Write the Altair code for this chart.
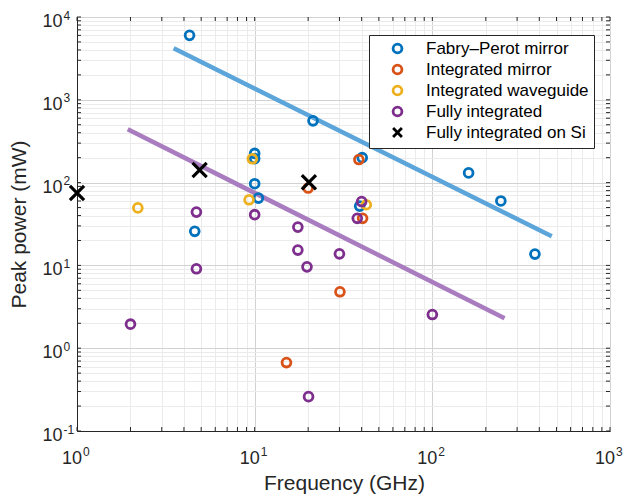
import altair as alt
import pandas as pd

# ---------------- data ----------------
series_names = ["Fabry–Perot mirror", "Integrated mirror", "Integrated waveguide",
                "Fully integrated", "Fully integrated on Si"]
series_colors = ["#0072BD", "#D95319", "#EDB120", "#7E2F8E", "#000000"]

fp_freq = [4.3, 21.3, 10, 10, 10, 10.5, 4.6, 40.3, 39, 160, 243, 378]
fp_power = [6000, 557, 225, 195, 97, 65, 25.8, 200, 52, 131, 60, 13.7]

im_freq = [38.6, 20, 40.5, 30.2, 15.1]
im_power = [190, 86, 37, 4.8, 0.67]

iw_freq = [2.2, 9.7, 9.3, 42.5]
iw_power = [49.5, 194, 62, 54]

fi_freq = [2.0, 4.7, 4.7, 10, 17.5, 17.5, 19.7, 30, 40, 37.8, 20.1, 100]
fi_power = [1.95, 44, 9.1, 41, 29, 15.3, 9.6, 13.8, 59, 37, 0.26, 2.55]

si_freq = [1.0, 4.9, 20.2]
si_power = [75, 142, 101]

# fitted trend lines (end points)
fit_fp_freq = [3.5, 470]
fit_fp_power = [4200, 22.5]
fit_fi_freq = [1.93, 255]
fit_fi_power = [440, 2.3]

# tick labels
x_label_vals = [1, 10, 100, 1000]
x_label_exps = ["0", "1", "2", "3"]
y_label_vals = [0.1, 1, 10, 100, 1000, 10000]
y_label_exps = ["-1", "0", "1", "2", "3", "4"]

x_ticks = [m * 10 ** k for k in range(0, 3) for m in range(1, 10)] + [1000]
y_ticks = [m * 10 ** k for k in range(-1, 4) for m in range(1, 10)] + [10000]

# ---------------- tables ----------------
rows = []
for name, fs, ps in zip(series_names,
                        [fp_freq, im_freq, iw_freq, fi_freq, si_freq],
                        [fp_power, im_power, iw_power, fi_power, si_power]):
    for f, p in zip(fs, ps):
        rows.append({"freq": f, "power": p, "series": name})
df = pd.DataFrame(rows)

fit_fp_df = pd.DataFrame({"freq": fit_fp_freq, "power": fit_fp_power})
fit_fi_df = pd.DataFrame({"freq": fit_fi_freq, "power": fit_fi_power})

xlab_df = pd.DataFrame({"v": x_label_vals, "e": x_label_exps})
ylab_df = pd.DataFrame({"v": y_label_vals, "e": y_label_exps})
xtick_df = pd.DataFrame({"v": x_ticks})
ytick_df = pd.DataFrame({"v": y_ticks})

FONT = "Liberation Sans"
TXT = "#262626"
W, H = 533, 414
major = "abs(log(datum.value)/LN10 - round(log(datum.value)/LN10)) < 1e-6"
grid_color = {"condition": {"test": major, "value": "#d2d2d2"}, "value": "#ebebeb"}

x_scale = alt.Scale(type="log", domain=[1, 1000], nice=False)
y_scale = alt.Scale(type="log", domain=[0.1, 10000], nice=False)

x_axis = alt.Axis(
    values=x_ticks, grid=True, gridColor=grid_color, ticks=False, labels=False,
    domainColor=TXT,
    title="Frequency (GHz)", titleFont=FONT, titleFontSize=21, titleFontWeight="normal",
    titleColor=TXT, titleX=267, titleY=52, titleBaseline="middle", titleAlign="center",
)
y_axis = alt.Axis(
    values=y_ticks, grid=True, gridColor=grid_color, ticks=False, labels=False,
    domainColor=TXT,
    title="Peak power (mW)", titleFont=FONT, titleFontSize=21, titleFontWeight="normal",
    titleColor=TXT, titleX=-58, titleY=207, titleBaseline="middle", titleAlign="center",
    titleAngle=270,
)

X = alt.X("freq:Q", scale=x_scale, axis=x_axis)
Y = alt.Y("power:Q", scale=y_scale, axis=y_axis)
XV = alt.X("v:Q", scale=x_scale, axis=x_axis)
YV = alt.Y("v:Q", scale=y_scale, axis=y_axis)

x_path = "M-1,-1L1,1M-1,1L1,-1"
si_name = series_names[4]

# inward tick marks on all four sides
tick_len = 4
ticks_bottom = alt.Chart(xtick_df).mark_rule(color=TXT, strokeWidth=1).encode(
    x=XV, y=alt.value(H), y2=alt.value(H - tick_len))
ticks_top = alt.Chart(xtick_df).mark_rule(color=TXT, strokeWidth=1).encode(
    x=XV, y=alt.value(0), y2=alt.value(tick_len))
ticks_left = alt.Chart(ytick_df).mark_rule(color=TXT, strokeWidth=1).encode(
    y=YV, x=alt.value(0), x2=alt.value(tick_len))
ticks_right = alt.Chart(ytick_df).mark_rule(color=TXT, strokeWidth=1).encode(
    y=YV, x=alt.value(W), x2=alt.value(W - tick_len))

# tick labels: "10" with superscript exponent
xl_base = alt.Chart(xlab_df).mark_text(font=FONT, fontSize=18, color=TXT, align="right",
                                        baseline="alphabetic", dx=5).encode(
    x=XV, y=alt.value(H + 33), text=alt.value("10"))
xl_exp = alt.Chart(xlab_df).mark_text(font=FONT, fontSize=12, color=TXT, align="left",
                                       baseline="alphabetic", dx=6).encode(
    x=XV, y=alt.value(H + 25), text="e:N")
yl_base = alt.Chart(ylab_df).mark_text(font=FONT, fontSize=18, color=TXT, align="right",
                                        baseline="alphabetic", dy=10).encode(
    y=YV, x=alt.value(-14.5), text=alt.value("10"))
yl_exp = alt.Chart(ylab_df).mark_text(font=FONT, fontSize=12, color=TXT, align="left",
                                       baseline="alphabetic", dy=2.5).encode(
    y=YV, x=alt.value(-13.5), text="e:N")

line_fp = alt.Chart(fit_fp_df).mark_line(strokeWidth=4.5, clip=False, color="#5ba5da").encode(
    x=X, y=Y)
line_fi = alt.Chart(fit_fi_df).mark_line(strokeWidth=4.5, clip=False, color="#a97bbf").encode(
    x=X, y=Y)

legend = alt.Legend(
    orient="none", legendX=292, legendY=18, title=None,
    labelFont=FONT, labelFontSize=17, labelColor="#000000", labelLimit=400,
    strokeColor=TXT, fillColor="white", padding=5, rowPadding=0,
    symbolOffset=15, labelOffset=20, symbolStrokeWidth=2.8, cornerRadius=0,
)

points = alt.Chart(df).transform_filter(
    alt.datum.series != si_name
).mark_point(filled=False, strokeWidth=2.8, opacity=1, clip=False).encode(
    x=X, y=Y,
    color=alt.Color("series:N", scale=alt.Scale(domain=series_names, range=series_colors),
                    legend=legend),
    shape=alt.Shape("series:N", scale=alt.Scale(domain=series_names,
                                                 range=["circle"] * 4 + [x_path]),
                    legend=legend),
    size=alt.Size("series:N", scale=alt.Scale(domain=series_names,
                                               range=[78, 78, 78, 78, 560]),
                  legend=legend),
)

crosses = alt.Chart(df).transform_filter(
    alt.datum.series == si_name
).mark_point(filled=False, shape=x_path, size=200, strokeWidth=3.2, color="#000000",
             opacity=1, clip=False).encode(x=X, y=Y)

chart = alt.layer(
    ticks_bottom, ticks_top, ticks_left, ticks_right,
    line_fp, line_fi, points, crosses, xl_base, xl_exp, yl_base, yl_exp,
).properties(
    width=W, height=H,
    autosize=alt.AutoSizeParams(type="none"),
    padding={"left": 77, "top": 17, "right": 16, "bottom": 63},
    background="white",
).configure_view(stroke=TXT, strokeWidth=1)

chart.save("out.html", embed_options={"renderer": "svg", "actions": False})
